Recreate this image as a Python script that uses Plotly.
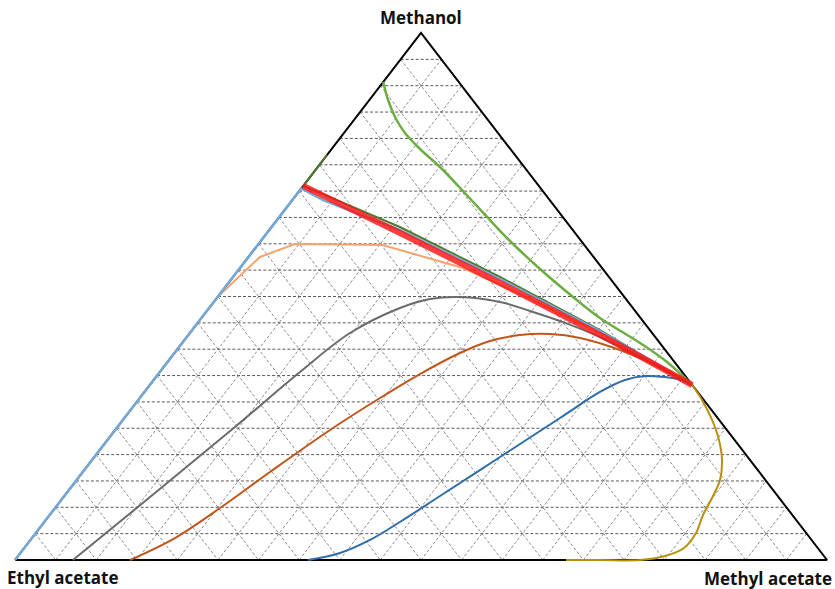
import plotly.graph_objects as go

# Ternary compositions (mole fractions): methanol and methyl acetate; ethyl acetate = 1 - both
AXIS_TOP = "Methanol"
AXIS_LEFT = "Ethyl acetate"
AXIS_RIGHT = "Methyl acetate"

# Distillation boundary joining the two binary azeotropes
boundary_meoh = [0.710, 0.6205, 0.5256, 0.427, 0.332]
boundary_meoac = [0.000, 0.164, 0.3345, 0.507, 0.668]

# Residue curves
green_meoh = [0.907, 0.8729, 0.8406, 0.8102, 0.7799, 0.7457, 0.7002, 0.6509, 0.6053, 0.5522,
              0.4991, 0.4592, 0.4118, 0.3757, 0.332]
green_meoac = [0.000, 0.0230, 0.0477, 0.0752, 0.1089, 0.1505, 0.2016, 0.2559, 0.3069, 0.3705,
               0.4377, 0.4908, 0.5638, 0.6151, 0.668]

darkgreen_meoh = [0.7685, 0.710, 0.6319, 0.537, 0.4364, 0.332]
darkgreen_meoac = [0.000, 0.000, 0.158, 0.3288, 0.5022, 0.668]

lightblue_meoh = [0.000, 0.705, 0.683, 0.6262, 0.5332, 0.4345, 0.332]
lightblue_meoac = [0.000, 0.000, 0.038, 0.161, 0.3307, 0.5031, 0.668]

orange_meoh = [0.000, 0.499, 0.575, 0.5996, 0.5977, 0.554, 0.5047, 0.4307, 0.332]
orange_meoac = [0.000, 0.000, 0.0142, 0.045, 0.154, 0.2747, 0.3695, 0.505, 0.668]

gray_meoh = [0.000, 0.1271, 0.2524, 0.3567, 0.4307, 0.4782, 0.4953, 0.4991, 0.4896, 0.4725,
             0.4535, 0.4231, 0.332]
gray_meoac = [0.0714, 0.1088, 0.1447, 0.1726, 0.1972, 0.2350, 0.2635, 0.2985, 0.3525, 0.3980,
              0.4444, 0.5088, 0.668]

brown_meoh = [0.000, 0.0417, 0.0987, 0.1670, 0.2467, 0.3074, 0.3529, 0.3928, 0.4156, 0.4269,
              0.4288, 0.4213, 0.3985, 0.3662, 0.332]
brown_meoac = [0.1416, 0.1761, 0.2032, 0.2305, 0.2646, 0.2958, 0.3223, 0.3516, 0.3772, 0.4084,
               0.4445, 0.4852, 0.5459, 0.6112, 0.668]

blue_meoh = [0.000, 0.0133, 0.0380, 0.0721, 0.1214, 0.1954, 0.2694, 0.3188, 0.3416, 0.3491,
             0.3472, 0.3416, 0.332]
blue_meoac = [0.3608, 0.3936, 0.4182, 0.4380, 0.4627, 0.4996, 0.5365, 0.5610, 0.5804, 0.6013,
              0.6269, 0.6506, 0.668]

gold_meoh = [0.332, 0.3036, 0.2657, 0.2277, 0.1898, 0.1518, 0.1176, 0.0854, 0.0512, 0.0228,
             0.0076, 0.000, 0.000, 0.000]
gold_meoac = [0.668, 0.6943, 0.7256, 0.7531, 0.7758, 0.7923, 0.7996, 0.8046, 0.8131, 0.8125,
              0.7967, 0.7697, 0.7204, 0.6786]

GRID_STEPS = 20


def to_xy(meoh, meoac):
    """Ternary -> Cartesian: ethyl acetate at (0,0), methyl acetate at (1,0), methanol at (0.5,1)."""
    xs = [a + 0.5 * m for m, a in zip(meoh, meoac)]
    ys = list(meoh)
    return xs, ys


fig = go.Figure()

# Dashed 5 % grid: horizontal (iso-methanol) lines and the two diagonal families
hx, hy, dx, dy = [], [], [], []
for i in range(1, GRID_STEPS):
    f = i / GRID_STEPS
    x, y = to_xy([f, f], [0.0, 1 - f])               # constant methanol
    hx += x + [None]
    hy += y + [None]
    for seg in (([0.0, 1 - f], [f, f]),               # constant methyl acetate
                ([1 - f, 0.0], [0.0, 1 - f])):        # constant ethyl acetate
        x, y = to_xy(*seg)
        dx += x + [None]
        dy += y + [None]
fig.add_trace(go.Scatter(x=dx, y=dy, mode="lines", hoverinfo="skip",
                         line=dict(color="#8c8c8c", width=1, dash="3px,2px")))
fig.add_trace(go.Scatter(x=hx, y=hy, mode="lines", hoverinfo="skip",
                         line=dict(color="#5a5a5a", width=1, dash="3px,2px")))

# Triangle outline
bx, by = to_xy([0, 0, 1, 0], [0, 1, 0, 0])
fig.add_trace(go.Scatter(x=bx, y=by, mode="lines", hoverinfo="skip",
                         line=dict(color="black", width=2)))

curves = [
    (orange_meoh, orange_meoac, "#F4A46E", 2, "linear"),
    (darkgreen_meoh, darkgreen_meoac, "#4F7A30", 2, "linear"),
    (lightblue_meoh, lightblue_meoac, "#73A8D8", 2.5, "linear"),
    (gray_meoh, gray_meoac, "#6B6B6B", 2, "spline"),
    (brown_meoh, brown_meoac, "#C0561A", 2, "spline"),
    (blue_meoh, blue_meoac, "#2E6DAA", 2, "spline"),
    (gold_meoh, gold_meoac, "#B8900A", 2, "spline"),
    (green_meoh, green_meoac, "#6DAE43", 2.5, "spline"),
]
for meoh, meoac, color, width, shape in curves:
    x, y = to_xy(meoh, meoac)
    fig.add_trace(go.Scatter(x=x, y=y, mode="lines", hoverinfo="skip",
                             line=dict(color=color, width=width, shape=shape)))

# Distillation boundary
x, y = to_xy(boundary_meoh, boundary_meoac)
fig.add_trace(go.Scatter(x=x, y=y, mode="lines", hoverinfo="skip",
                         line=dict(color="rgba(250,20,20,0.82)", width=6, shape="spline")))

W, H = 835, 589
label_font = dict(family="Open Sans, sans-serif", size=17, color="#111111")
fig.update_layout(
    width=W, height=H,
    margin=dict(l=0, r=0, t=0, b=0),
    paper_bgcolor="white", plot_bgcolor="white",
    showlegend=False,
    xaxis=dict(visible=False, range=[-15 / 812, 820 / 812], fixedrange=True),
    yaxis=dict(visible=False, range=[-29 / 527, 560 / 527], fixedrange=True),
    annotations=[
        dict(text=f"<b>{AXIS_TOP}</b>", x=421 / W, y=1 - 18 / H, xref="paper", yref="paper",
             xanchor="center", yanchor="middle", showarrow=False, font=label_font),
        dict(text=f"<b>{AXIS_LEFT}</b>", x=5 / W, y=1 - 577 / H, xref="paper", yref="paper",
             xanchor="left", yanchor="middle", showarrow=False, font=label_font),
        dict(text=f"<b>{AXIS_RIGHT}</b>", x=834 / W, y=1 - 578 / H, xref="paper", yref="paper",
             xanchor="right", yanchor="middle", showarrow=False, font=label_font),
    ],
)

fig.write_html("out.html")
